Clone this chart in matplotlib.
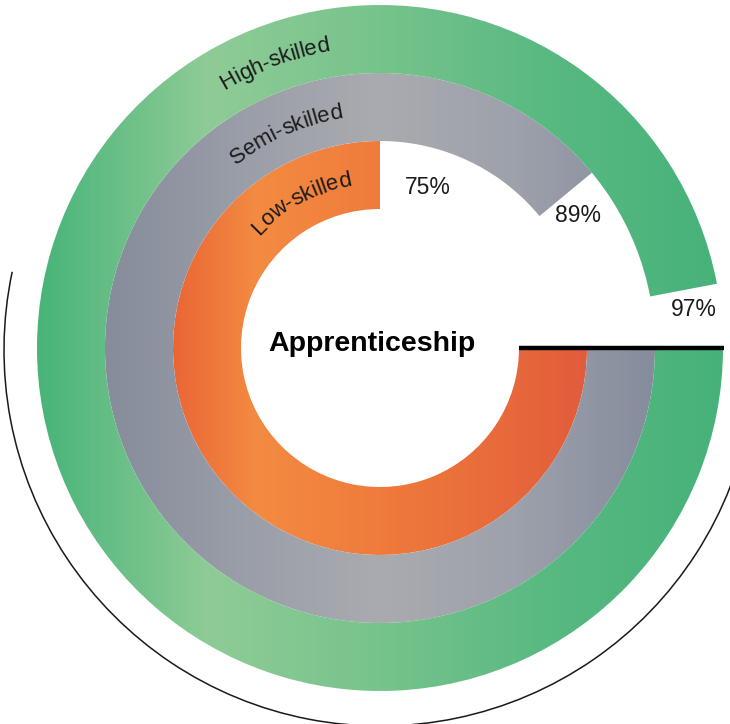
import numpy as np
import matplotlib
matplotlib.use("Agg")
import matplotlib.pyplot as plt
from matplotlib.patches import Wedge, Arc
from matplotlib.colors import LinearSegmentedColormap

# share of each skill level (innermost ring first)
groups = ["Low-skilled", "Semi-skilled", "High-skilled"]
shares = [75, 89, 97]
pct_labels = ["75%", "89%", "97%"]
title = "Apprenticeship"

# ring geometry in pixels
cx, cy = 380, 376
r_inner = 139
ring_w = 68

# horizontal gradient stops for each ring
ring_colors = [
    [(0.0, "#ea6635"), (0.2, "#f38b42"), (0.5, "#ef7b3c"), (0.8, "#e86a3b"), (1.0, "#e15c3c")],
    [(0.0, "#868c9b"), (0.25, "#9a9ea8"), (0.5, "#aaabb0"), (0.75, "#9da1ab"), (1.0, "#858c9c")],
    [(0.0, "#48b478"), (0.25, "#8fcb97"), (0.5, "#77c38c"), (0.75, "#58b981"), (1.0, "#46b27a")],
]

fig = plt.figure(figsize=(7.3, 7.24), dpi=100)
ax = fig.add_axes([0, 0, 1, 1])
ax.axis("off")

grad = np.linspace(0, 1, 256).reshape(1, -1)

for i, (name, val) in enumerate(zip(groups, shares)):
    r_out = r_inner + ring_w * (i + 1)
    theta1 = 360 * (1 - val / 100)
    wedge = Wedge((cx, cy), r_out, theta1, 360, width=ring_w,
                  facecolor="none", edgecolor="none")
    ax.add_patch(wedge)
    cmap = LinearSegmentedColormap.from_list(name, ring_colors[i])
    im = ax.imshow(grad, cmap=cmap, aspect="auto", interpolation="bilinear",
                   extent=[cx - r_out, cx + r_out, cy - r_out, cy + r_out],
                   zorder=1)
    im.set_clip_path(wedge)

ax.set_xlim(0, 730)
ax.set_ylim(0, 724)

# black baseline at the start of the bars
ax.plot([cx + r_inner, cx + r_inner + 3 * ring_w + 1], [cy, cy],
        color="black", lw=3.2, solid_capstyle="butt", zorder=3)

# thin outline around the lower-left
ax.add_patch(Arc((cx, cy - 2), 2 * 376, 2 * 376, theta1=168, theta2=350,
                 color="#1a1a1a", lw=1.1, zorder=3))

font = "Liberation Sans"


def arc_text(s, radius, theta_mid, size):
    """Write s along a circle, reading clockwise, centred on theta_mid."""
    renderer = fig.canvas.get_renderer()
    widths = []
    for ch in s:
        t = ax.text(0, 0, ch, fontsize=size, family=font)
        widths.append(t.get_window_extent(renderer).width)
        t.remove()
    widths = np.array(widths) * 0.98
    total = widths.sum()
    start = np.radians(theta_mid) + total / (2 * radius)
    pos = 0.0
    for ch, w in zip(s, widths):
        ang = start - (pos + w / 2) / radius
        ax.text(cx + radius * np.cos(ang), cy + radius * np.sin(ang), ch,
                fontsize=size, family=font, color="#1b1b1b",
                rotation=np.degrees(ang) - 90, rotation_mode="anchor",
                ha="center", va="baseline", zorder=4)
        pos += w


label_mid = [118.5, 113.6, 110.3]
for i, name in enumerate(groups):
    r_mid = r_inner + ring_w * i + ring_w / 2
    arc_text(name, r_mid - 8, label_mid[i], 16)

pct_pos = [(428, 537), (578, 508), (694, 414)]
for (x, y), lab in zip(pct_pos, pct_labels):
    ax.text(x, y, lab, fontsize=16.5, family=font, color="#1b1b1b",
            ha="center", va="center", zorder=4)

ax.text(372, 380, title, fontsize=20.5, family=font, fontweight="bold",
        color="black", ha="center", va="center", zorder=4)

fig.savefig("out.png", dpi=100)
